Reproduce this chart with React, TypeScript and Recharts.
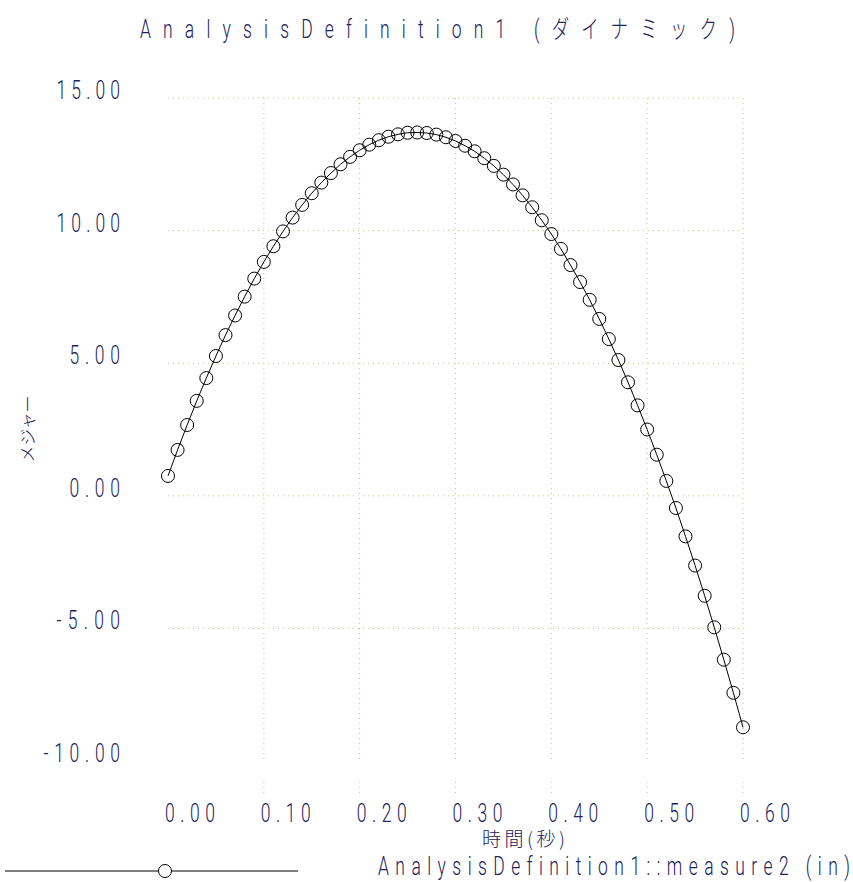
import { LineChart, Line, XAxis, YAxis, CartesianGrid } from 'recharts'

const times = [
  0.0, 0.01, 0.02, 0.03, 0.04, 0.05, 0.06, 0.07, 0.08, 0.09,
  0.1, 0.11, 0.12, 0.13, 0.14, 0.15, 0.16, 0.17, 0.18, 0.19,
  0.2, 0.21, 0.22, 0.23, 0.24, 0.25, 0.26, 0.27, 0.28, 0.29,
  0.3, 0.31, 0.32, 0.33, 0.34, 0.35, 0.36, 0.37, 0.38, 0.39,
  0.4, 0.41, 0.42, 0.43, 0.44, 0.45, 0.46, 0.47, 0.48, 0.49,
  0.5, 0.51, 0.52, 0.53, 0.54, 0.55, 0.56, 0.57, 0.58, 0.59,
  0.6,
]

const measure2 = [
  0.75, 1.73, 2.67, 3.58, 4.44, 5.27, 6.06, 6.8, 7.51, 8.19,
  8.82, 9.41, 9.97, 10.49, 10.97, 11.41, 11.81, 12.17, 12.5, 12.78,
  13.03, 13.24, 13.41, 13.54, 13.63, 13.69, 13.7, 13.68, 13.62, 13.52,
  13.38, 13.2, 12.99, 12.73, 12.44, 12.11, 11.74, 11.33, 10.88, 10.39,
  9.87, 9.31, 8.7, 8.06, 7.39, 6.67, 5.91, 5.12, 4.28, 3.41,
  2.5, 1.55, 0.56, -0.46, -1.53, -2.63, -3.77, -4.96, -6.18, -7.43,
  -8.73,
]

const xTicks = [0, 0.1, 0.2, 0.3, 0.4, 0.5, 0.6]
const yTicks = [-10, -5, 0, 5, 10, 15]
const gridX = [0.1, 0.2, 0.3, 0.4, 0.5, 0.6]
const gridY = [-5, 0, 5, 10, 15]

const title = 'AnalysisDefinition1 (ダイナミック)'
const xTitle = '時間(秒)'
const yTitle = 'メジャー'
const seriesName = 'AnalysisDefinition1::measure2 (in)'

const data = times.map((t, i) => ({ t, v: measure2[i] }))

const INK = '#22225c'
const GRID = '#c9bf88'
const FONT = "Roboto, 'DejaVu Sans', 'Noto Sans CJK JP', sans-serif"
const CJK = "'Noto Sans CJK JP', sans-serif"
const SX = 0.7 // squeeze glyphs to get the thin, tall plotter-style lettering

// text squeezed horizontally, spread to a given width
const Narrow = ({ x, y, width, anchor = 'start', size = 25, children }: any) => (
  <text
    transform={`translate(${x} ${y}) scale(${SX} 1)`}
    fill={INK}
    fontFamily={FONT}
    fontSize={size}
    fontWeight={300}
    textAnchor={anchor}
    textLength={width / SX}
    lengthAdjust="spacing"
    style={{ fontVariantLigatures: 'none' }}
  >
    {children}
  </text>
)

// x tick: label below the plot, with a short dotted stub under each grid line
const renderXTick = (props: any) => {
  const { x, y, payload } = props
  const label = Number(payload.value).toFixed(2)
  return (
    <g key={`xt-${payload.value}`}>
      {payload.value > 0 && (
        <line x1={x} x2={x} y1={y + 21} y2={y + 34} stroke={GRID} strokeDasharray="1 4" />
      )}
      <Narrow x={x - 3} y={y + 61} width={50}>
        {label}
      </Narrow>
    </g>
  )
}

const renderYTick = (props: any) => {
  const { y, payload } = props
  const label = Number(payload.value).toFixed(2)
  return (
    <g key={`yt-${payload.value}`}>
      <Narrow x={120} y={y + 1} width={13 * label.length - 1.5} anchor="end">
        {label}
      </Narrow>
    </g>
  )
}

export default function App() {
  return (
    <div style={{ position: 'absolute', left: 0, top: 0, width: 853, height: 882, background: '#fff' }}>
      <LineChart
        width={853}
        height={882}
        data={data}
        margin={{ top: 98, right: 110, bottom: 120, left: 167 }}
      >
        <CartesianGrid
          stroke={GRID}
          strokeDasharray="1 4"
          horizontalValues={gridY}
          verticalValues={gridX}
        />
        <XAxis
          type="number"
          dataKey="t"
          domain={[0, 0.6]}
          ticks={xTicks}
          height={1}
          axisLine={false}
          tickLine={false}
          tickSize={0}
          tickMargin={0}
          tick={renderXTick}
          interval={0}
        />
        <YAxis
          type="number"
          domain={[-10, 15]}
          ticks={yTicks}
          width={1}
          axisLine={false}
          tickLine={false}
          tickSize={0}
          tickMargin={0}
          tick={renderYTick}
          interval={0}
        />
        <Line
          type="linear"
          dataKey="v"
          name={seriesName}
          stroke="#000"
          strokeWidth={1}
          dot={{ r: 6.5, stroke: '#000', strokeWidth: 1, fill: 'none' }}
          isAnimationActive={false}
        />
      </LineChart>
      <svg
        width={853}
        height={882}
        style={{ position: 'absolute', left: 0, top: 0, pointerEvents: 'none' }}
      >
        <Narrow x={140} y={38} width={595}>
          {title}
        </Narrow>
        <text
          transform="translate(34 429) rotate(-90)"
          textAnchor="middle"
          fill={INK}
          fontFamily={CJK}
          fontSize={17}
          fontWeight={300}
        >
          {yTitle}
        </text>
        <text
          x={482}
          y={846}
          fill={INK}
          fontFamily={CJK}
          fontSize={19}
          fontWeight={300}
          textLength={83}
          lengthAdjust="spacing"
        >
          {xTitle}
        </text>
        <line x1={5} x2={298} y1={871} y2={871} stroke="#000" strokeWidth={1} />
        <circle cx={165} cy={871} r={6.5} stroke="#000" strokeWidth={1} fill="#fff" />
        <Narrow x={378} y={875} width={472}>
          {seriesName}
        </Narrow>
      </svg>
    </div>
  )
}
